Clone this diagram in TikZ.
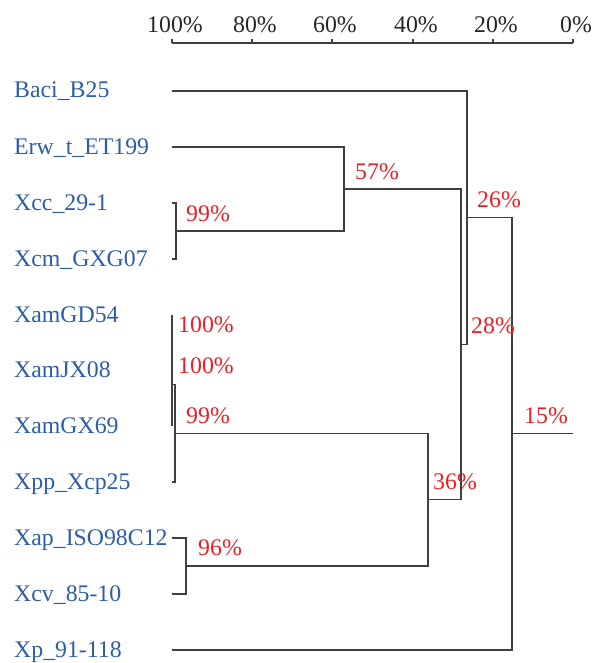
\documentclass[tikz,border=0pt]{standalone}
\usepackage{fontspec}
\setmainfont{Liberation Serif}
\definecolor{lblue}{RGB}{46,92,168}
\definecolor{pred}{RGB}{236,30,36}
\definecolor{lgray}{RGB}{64,64,64}
\begin{document}
\begin{tikzpicture}[x=1pt,y=-1pt,
  lbl/.style={anchor=base west,inner sep=0pt,text=lblue,font=\fontsize{23.8}{28}\selectfont},
  pct/.style={anchor=base west,inner sep=0pt,text=pred,font=\fontsize{23.8}{28}\selectfont},
  axl/.style={anchor=base,inner sep=0pt,text=black!85,font=\fontsize{23.8}{28}\selectfont},
  br/.style={draw=lgray,line width=1.2pt},
  ax/.style={draw=lgray,line width=1.1pt}]
\useasboundingbox (0,0) rectangle (599,663);
% axis
\foreach \v/\x in {100/172,80/252,60/332,40/413,20/493,0/573}{
  \coordinate (a\v) at (\x,43);
  \coordinate (t\v) at (\x,39);
  \draw[ax] (a\v) -- (t\v);
  \node[axl] (al\v) at ([xshift=3pt,yshift=10pt]a\v) {\v\%};
}
\draw[ax] (a100) -- (a0);
% leaves
\foreach \i/\y/\t in {0/91/Baci\_B25,1/147/Erw\_t\_ET199,2/203/Xcc\_29-1,3/259/Xcm\_GXG07,
  4/315/XamGD54,5/370.5/XamJX08,6/426/XamGX69,7/482/Xpp\_Xcp25,
  8/538/Xap\_ISO98C12,9/594/Xcv\_85-10,10/650/Xp\_91-118}{
  \coordinate (L\i) at (172,\y);
  \node[lbl] (T\i) at ([yshift=-7pt]14,\y) {\t};
}
% internal nodes
\coordinate (n99a) at (176,231);
\coordinate (n57) at (344,189);
\coordinate (n100a) at (172,342.75);
\coordinate (n100b) at (172,384.4);
\coordinate (n99b) at (175,433.2);
\coordinate (n96) at (186,566);
\coordinate (n36) at (428,499.6);
\coordinate (n28) at (461,344.3);
\coordinate (n26) at (467,217.6);
\coordinate (n15) at (512,433.8);
\coordinate (root) at (573,433.8);
% branches
\draw[br] (L2) -| (n99a) |- (L3);
\draw[br] (L1) -| (n57) |- (n99a);
\draw[br] (L4) -- (L5);
\draw[br] (n100a) -- (L6);
\draw[br] (n100b) -| (n99b) |- (L7);
\draw[br] (L8) -| (n96) |- (L9);
\draw[br] (n99b) -| (n36) |- (n96);
\draw[br] (n57) -| (n28) |- (n36);
\draw[br] (L0) -| (n26) |- (n28);
\draw[br] (n26) -| (n15) |- (L10);
\draw[br] (n15) -- (root);
% percentages
\node[pct] (p99a) at ([xshift=10pt,yshift=10pt]n99a) {99\%};
\node[pct] (p57) at ([xshift=11pt,yshift=10pt]n57) {57\%};
\node[pct] (p100a) at ([xshift=6pt,yshift=10pt]n100a) {100\%};
\node[pct] (p100b) at ([xshift=6pt,yshift=10.5pt]n100b) {100\%};
\node[pct] (p99b) at ([xshift=11pt,yshift=10pt]n99b) {99\%};
\node[pct] (p96) at ([xshift=12pt,yshift=10.5pt]n96) {96\%};
\node[pct] (p36) at ([xshift=5pt,yshift=10pt]n36) {36\%};
\node[pct] (p28) at ([xshift=10pt,yshift=11pt]n28) {28\%};
\node[pct] (p26) at ([xshift=10pt,yshift=10pt]n26) {26\%};
\node[pct] (p15) at ([xshift=12pt,yshift=10pt]n15) {15\%};
\end{tikzpicture}
\end{document}
